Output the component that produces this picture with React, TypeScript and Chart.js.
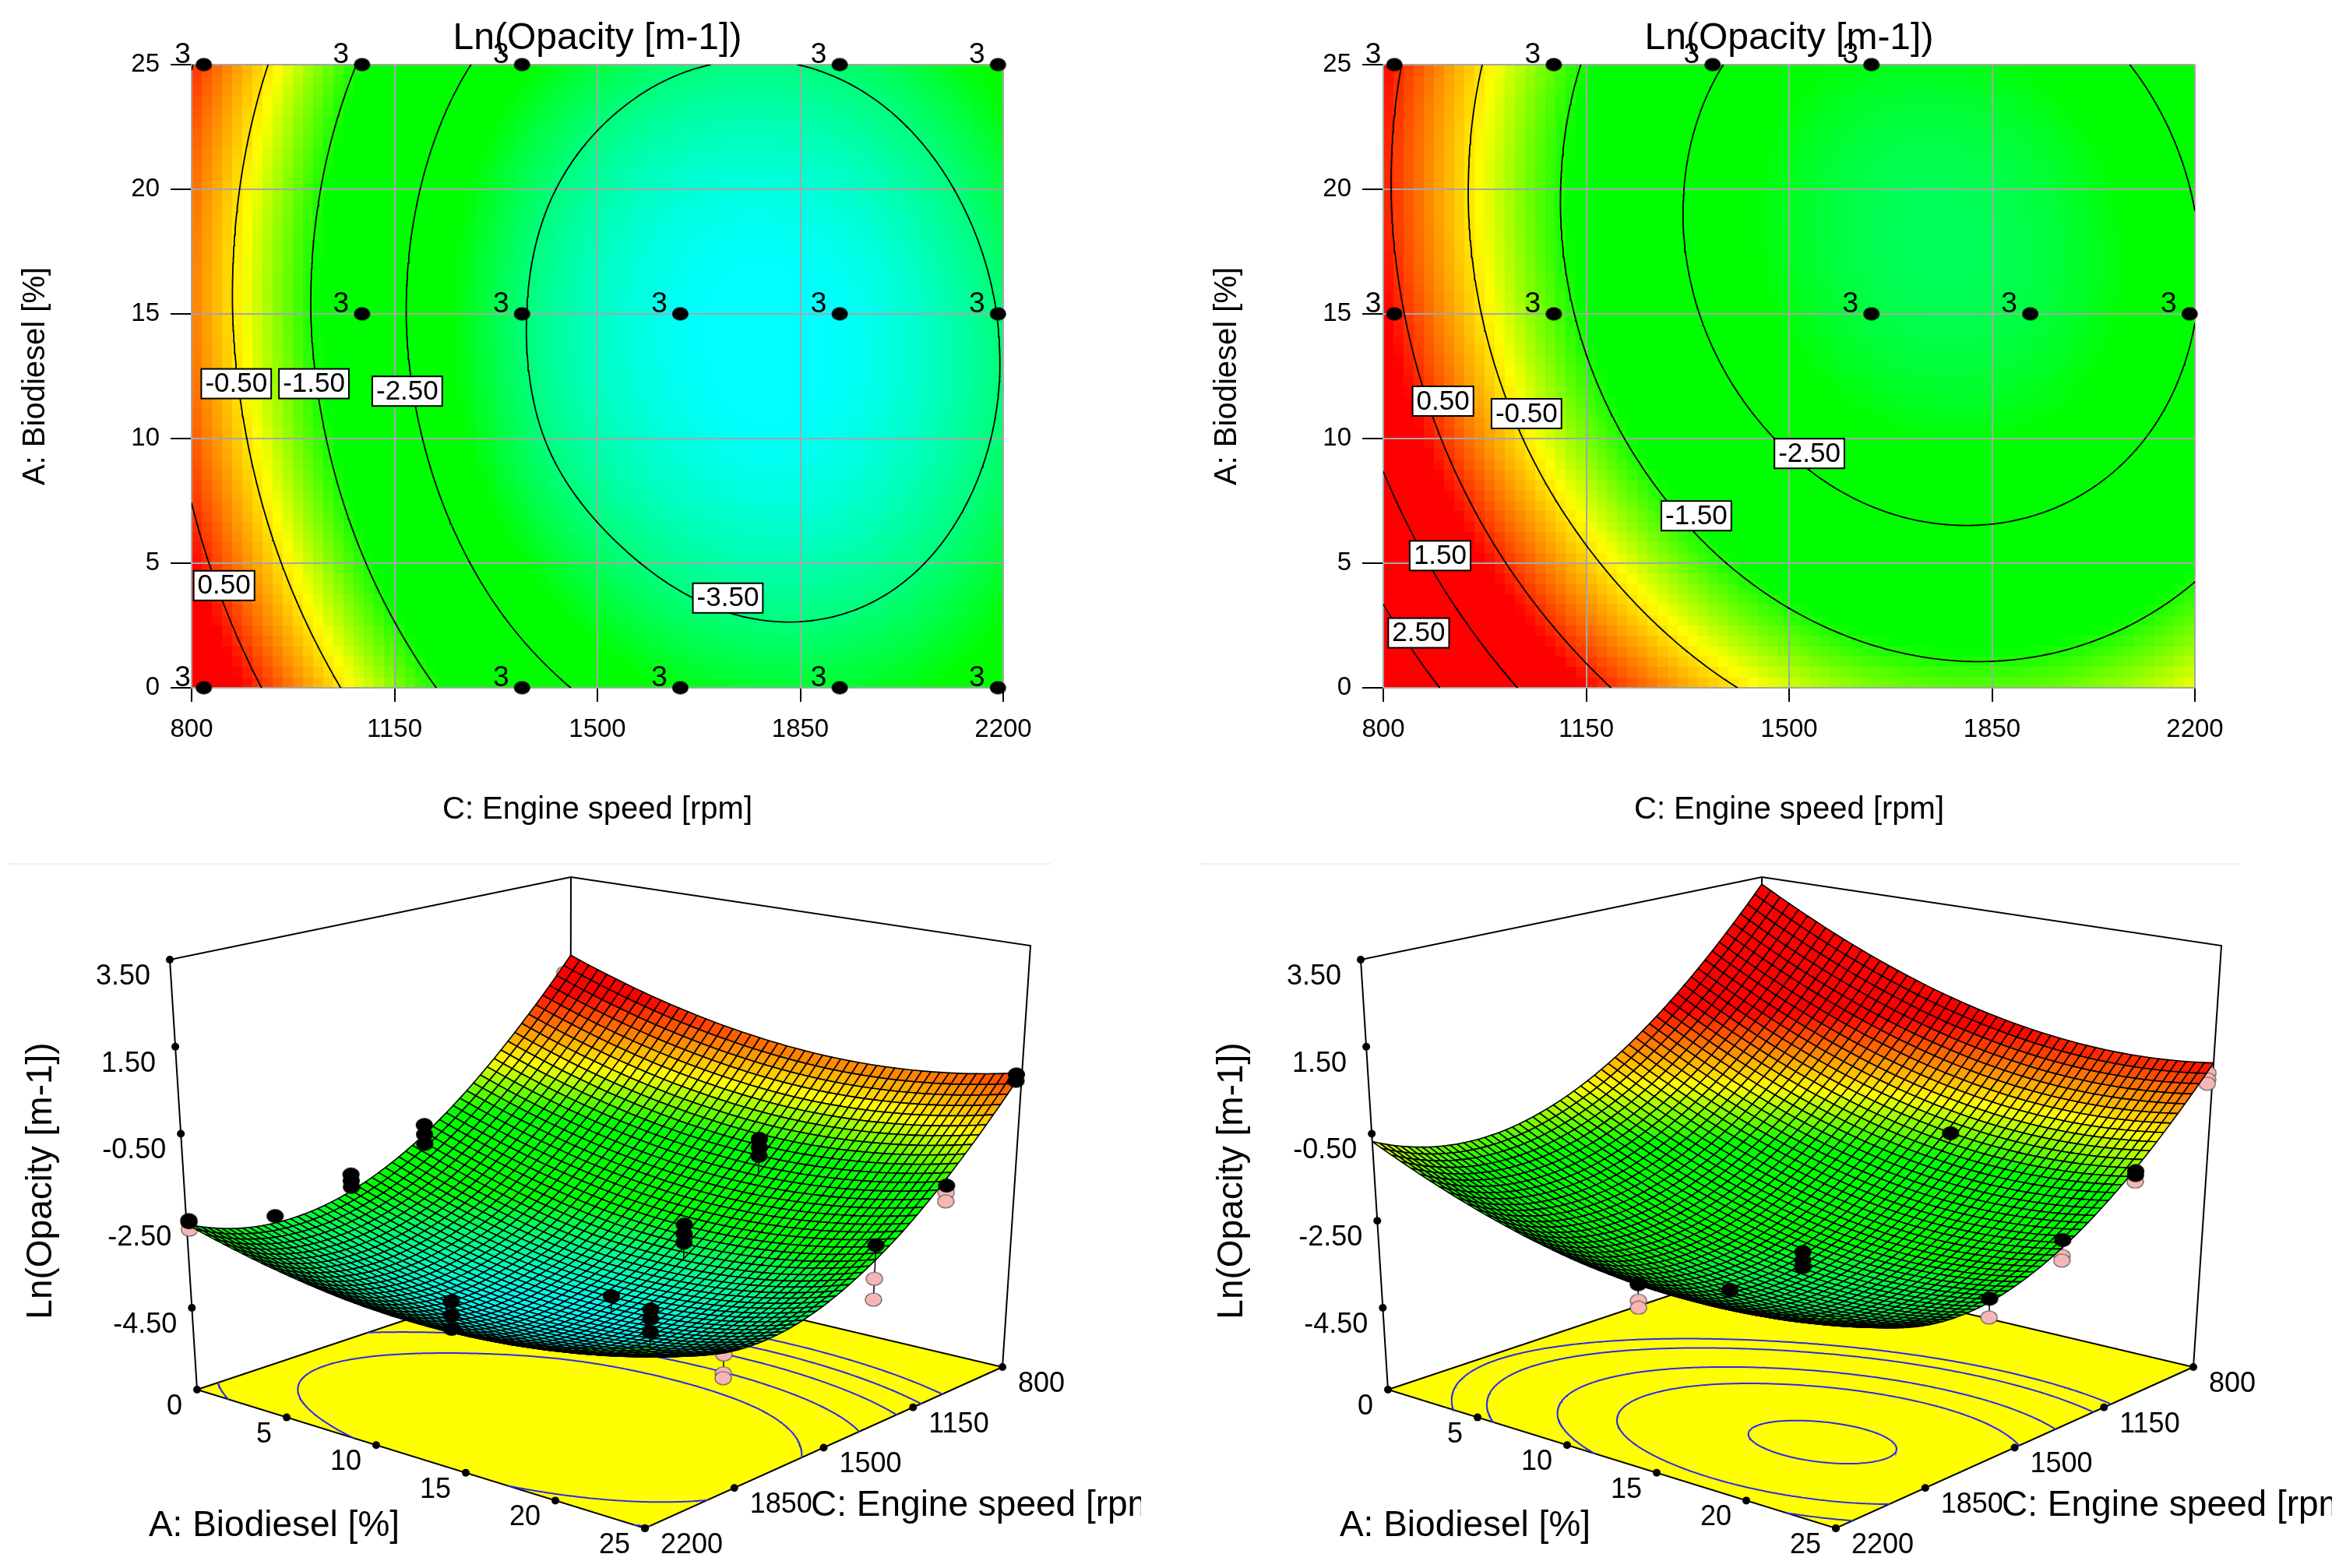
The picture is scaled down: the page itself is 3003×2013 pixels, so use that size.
import React, { useEffect, useRef } from 'react';
import { Chart, registerables } from 'chart.js';

Chart.register(...registerables);
Chart.defaults.font.family = '"Liberation Sans", Arial, sans-serif';

// ---------- data ----------
const speedNodes = [800, 1000, 1200, 1400, 1600, 1800, 2000, 2200];
const biodieselNodes = [0, 5, 10, 15, 20, 25];
// Ln(Opacity) at every speed node, one row per biodiesel node
const opacityLeft = [
  [1.51, -0.10, -1.38, -2.31, -2.89, -3.13, -3.03, -2.58],
  [0.76, -0.83, -2.08, -3.02, -3.55, -3.76, -3.62, -3.13],
  [0.29, -1.28, -2.51, -3.47, -3.94, -4.12, -3.94, -3.43],
  [0.09, -1.46, -2.66, -3.58, -4.04, -4.19, -4.00, -3.46],
  [0.17, -1.35, -2.53, -3.41, -3.87, -3.99, -3.78, -3.22],
  [0.52, -0.97, -2.13, -2.93, -3.40, -3.52, -3.30, -2.73],
];
const opacityRight = [
  [3.32, 1.72, 0.46, -0.46, -1.03, -1.26, -1.14, -0.68],
  [2.15, 0.58, -0.64, -1.53, -2.07, -2.26, -2.11, -1.62],
  [1.31, -0.23, -1.42, -2.27, -2.78, -2.94, -2.76, -2.23],
  [0.80, -0.71, -1.87, -2.69, -3.16, -3.29, -3.07, -2.51],
  [0.61, -0.86, -1.99, -2.78, -3.22, -3.31, -3.06, -2.47],
  [0.75, -0.69, -1.79, -2.54, -2.95, -3.01, -2.73, -2.11],
];
const titleText = 'Ln(Opacity [m-1])';
const speedTitle = 'C: Engine speed [rpm]';
const biodieselTitle = 'A: Biodiesel [%]';
const contourLevelsLeft = [0.5, -0.5, -1.5, -2.5, -3.5];
const contourLevelsRight = [2.5, 1.5, 0.5, -0.5, -1.5, -2.5];
const floorLevelsLeft = [-3.38, -2.8, -2.2, -1.7, -1.2];
const floorLevelsRight = [-3.27, -2.75, -2.35, -1.75, -1.4];
const designPointsLeft = [
  { x: 821, y: 25 }, { x: 1094, y: 25 }, { x: 1370, y: 25 }, { x: 1918, y: 25 }, { x: 2191, y: 25 },
  { x: 1094, y: 15 }, { x: 1370, y: 15 }, { x: 1643, y: 15 }, { x: 1918, y: 15 }, { x: 2191, y: 15 },
  { x: 821, y: 0 }, { x: 1370, y: 0 }, { x: 1643, y: 0 }, { x: 1918, y: 0 }, { x: 2191, y: 0 },
];
const designPointsRight = [
  { x: 819, y: 25 }, { x: 1094, y: 25 }, { x: 1368, y: 25 }, { x: 1642, y: 25 },
  { x: 819, y: 15 }, { x: 1094, y: 15 }, { x: 1642, y: 15 }, { x: 1916, y: 15 }, { x: 2191, y: 15 },
];
const contourTagsLeft = [
  { x: 877, y: 12.2, text: '-0.50' }, { x: 1011, y: 12.2, text: '-1.50' }, { x: 1172, y: 11.9, text: '-2.50' },
  { x: 856, y: 4.1, text: '0.50' }, { x: 1725, y: 3.6, text: '-3.50' },
];
const contourTagsRight = [
  { x: 903, y: 11.5, text: '0.50' }, { x: 1047, y: 11.0, text: '-0.50' }, { x: 1535, y: 9.4, text: '-2.50' },
  { x: 1340, y: 6.9, text: '-1.50' }, { x: 898, y: 5.3, text: '1.50' }, { x: 861, y: 2.2, text: '2.50' },
];
const runsAboveLeft = [
  { a: 0, c: 2191, z: -2.5 }, { a: 0, c: 2191, z: -2.55 }, { a: 0, c: 1880, z: -2.97 },
  { a: 0, c: 1600, z: -2.5 }, { a: 0, c: 1600, z: -2.65 }, { a: 0, c: 1600, z: -2.8 },
  { a: 0, c: 1330, z: -1.8 }, { a: 0, c: 1330, z: -2.03 }, { a: 0, c: 1330, z: -2.26 },
  { a: 25, c: 821, z: 0.52 }, { a: 25, c: 821, z: 0.37 }, { a: 25, c: 1065, z: -1.56 }, { a: 25, c: 1328, z: -2.35 },
  { a: 15, c: 1094, z: -1.25 }, { a: 15, c: 1094, z: -1.45 }, { a: 15, c: 1094, z: -1.65 },
  { a: 15, c: 1370, z: -2.69 }, { a: 15, c: 1370, z: -2.9 }, { a: 15, c: 1370, z: -3.1 },
  { a: 15, c: 1643, z: -3.74 },
  { a: 25, c: 2191, z: -1.99 }, { a: 25, c: 2191, z: -2.18 }, { a: 25, c: 2191, z: -2.45 },
  { a: 14.2, c: 2191, z: -2.85 }, { a: 14.2, c: 2191, z: -3.14 }, { a: 14.2, c: 2191, z: -3.43 },
];
const runsBelowLeft = [
  { a: 0, c: 2191, z: -2.72 }, { a: 25, c: 1065, z: -1.72 }, { a: 25, c: 1065, z: -1.92 },
  { a: 25, c: 1328, z: -3.09 }, { a: 25, c: 1328, z: -3.55 },
  { a: 25, c: 1905, z: -3.48 }, { a: 25, c: 1905, z: -3.87 }, { a: 25, c: 1905, z: -3.97 }, { a: 0, c: 821, z: 1.1 },
];
const runsAboveRight = [
  { a: 15, c: 1094, z: -1.12 }, { a: 25, c: 1075, z: -1.21 }, { a: 25, c: 1075, z: -1.3 },
  { a: 25, c: 1345, z: -2.2 }, { a: 25, c: 1620, z: -2.9 },
  { a: 15, c: 1642, z: -2.76 }, { a: 15, c: 1642, z: -2.95 }, { a: 15, c: 1642, z: -3.1 },
  { a: 15, c: 1916, z: -3.05 }, { a: 14, c: 2191, z: -2.5 },
];
const runsBelowRight = [
  { a: 25, c: 1075, z: -1.45 }, { a: 25, c: 1345, z: -2.55 }, { a: 25, c: 1345, z: -2.65 },
  { a: 25, c: 1620, z: -3.3 }, { a: 14, c: 2191, z: -2.85 }, { a: 14, c: 2191, z: -3.0 },
  { a: 25, c: 819, z: 0.55 }, { a: 25, c: 819, z: 0.4 }, { a: 25, c: 819, z: 0.3 },
];
const zTicks = [3.5, 1.5, -0.5, -2.5, -4.5];
const biodieselTicks = [0, 5, 10, 15, 20, 25];
const speedTicks = [800, 1150, 1500, 1850, 2200];

// ---------- colour scale ----------
const rampStops: any[] = [
  [-4.15, 0, 255, 255], [-2.9, 0, 255, 0], [-1.6, 0, 255, 0], [-0.65, 255, 255, 0], [0.75, 255, 0, 0],
];
function ramp(z: number) {
  if (z <= rampStops[0][0]) return 'rgb(0,255,255)';
  for (let i = 1; i < rampStops.length; i++) {
    if (z <= rampStops[i][0]) {
      const p = rampStops[i - 1], q = rampStops[i];
      const t = (z - p[0]) / (q[0] - p[0]);
      return `rgb(${Math.round(p[1] + (q[1] - p[1]) * t)},${Math.round(p[2] + (q[2] - p[2]) * t)},${Math.round(p[3] + (q[3] - p[3]) * t)})`;
    }
  }
  return 'rgb(255,0,0)';
}

// ---------- reading the response table ----------
function spline(p0: number, p1: number, p2: number, p3: number, t: number) {
  return 0.5 * (2 * p1 + (p2 - p0) * t + (2 * p0 - 5 * p1 + 4 * p2 - p3) * t * t + (3 * p1 - p0 - 3 * p2 + p3) * t * t * t);
}
function pick(get: (k: number) => number, k: number, n: number) {
  if (k < 0) return 3 * get(0) - 3 * get(1) + get(2);
  if (k >= n) return 3 * get(n - 1) - 3 * get(n - 2) + get(n - 3);
  return get(k);
}
function opacityAt(grid: number[][], a: number, c: number) {
  const nc = speedNodes.length, nr = biodieselNodes.length;
  const fx = (c - speedNodes[0]) / (speedNodes[1] - speedNodes[0]);
  const fy = (a - biodieselNodes[0]) / (biodieselNodes[1] - biodieselNodes[0]);
  const i = Math.max(0, Math.min(nc - 2, Math.floor(fx)));
  const j = Math.max(0, Math.min(nr - 2, Math.floor(fy)));
  const along = (r: number) => {
    const row = grid[r];
    const g = (k: number) => row[k];
    return spline(pick(g, i - 1, nc), pick(g, i, nc), pick(g, i + 1, nc), pick(g, i + 2, nc), fx - i);
  };
  return spline(pick(along, j - 1, nr), pick(along, j, nr), pick(along, j + 1, nr), pick(along, j + 2, nr), fy - j);
}
function contourOf(grid: number[][], levels: number[], nc = 160, nr = 110) {
  const out: { c: number; a: number }[] = [];
  const C0 = speedNodes[0], C1 = speedNodes[speedNodes.length - 1];
  const A0 = biodieselNodes[0], A1 = biodieselNodes[biodieselNodes.length - 1];
  const cs = (i: number) => C0 + ((C1 - C0) * i) / nc;
  const as = (j: number) => A0 + ((A1 - A0) * j) / nr;
  const vals: number[][] = [];
  for (let j = 0; j <= nr; j++) {
    const r: number[] = [];
    for (let i = 0; i <= nc; i++) r.push(opacityAt(grid, as(j), cs(i)));
    vals.push(r);
  }
  for (const L of levels) {
    for (let j = 0; j < nr; j++) for (let i = 0; i < nc; i++) {
      const corners = [
        [cs(i), as(j), vals[j][i]], [cs(i + 1), as(j), vals[j][i + 1]],
        [cs(i + 1), as(j + 1), vals[j + 1][i + 1]], [cs(i), as(j + 1), vals[j + 1][i]],
      ];
      const hits: { c: number; a: number }[] = [];
      for (let e = 0; e < 4; e++) {
        const p = corners[e], q = corners[(e + 1) % 4];
        if ((p[2] - L) * (q[2] - L) < 0) {
          const t = (L - p[2]) / (q[2] - p[2]);
          hits.push({ c: p[0] + (q[0] - p[0]) * t, a: p[1] + (q[1] - p[1]) * t });
        }
      }
      if (hits.length >= 2) {
        out.push(hits[0], hits[1], { c: NaN, a: NaN });
        if (hits.length === 4) out.push(hits[2], hits[3], { c: NaN, a: NaN });
      }
    }
  }
  return out;
}
function blob(w: number, h: number, fill: string, stroke?: string) {
  const c = document.createElement('canvas');
  c.width = w + 2; c.height = h + 2;
  const x = c.getContext('2d')!;
  x.beginPath();
  x.ellipse(c.width / 2, c.height / 2, w / 2, h / 2, 0, 0, Math.PI * 2);
  x.fillStyle = fill; x.fill();
  if (stroke) { x.strokeStyle = stroke; x.lineWidth = 1.2; x.stroke(); }
  return c;
}

// ---------- contour panel ----------
function ContourPanel({ left, grid, levels, points, tags }: any) {
  const ref = useRef<HTMLCanvasElement>(null);
  useEffect(() => {
    const heat = {
      id: 'heat',
      beforeDraw(chart: any) {
        const { ctx, scales: { x, y } } = chart;
        const cols = 80, rows = 60;
        for (let i = 0; i < cols; i++) for (let j = 0; j < rows; j++) {
          const c = 800 + (1400 * (i + 0.5)) / cols, a = (25 * (j + 0.5)) / rows;
          const x0 = Math.round(x.getPixelForValue(800 + (1400 * i) / cols));
          const x1 = Math.round(x.getPixelForValue(800 + (1400 * (i + 1)) / cols));
          const y0 = Math.round(y.getPixelForValue((25 * (j + 1)) / rows));
          const y1 = Math.round(y.getPixelForValue((25 * j) / rows));
          ctx.fillStyle = ramp(opacityAt(grid, a, c));
          ctx.fillRect(x0, y0, x1 - x0, y1 - y0);
        }
      },
    };
    const tagsPlugin = {
      id: 'tags',
      afterDatasetsDraw(chart: any) {
        const { ctx, scales: { x, y } } = chart;
        ctx.save();
        ctx.textAlign = 'center'; ctx.textBaseline = 'middle'; ctx.fillStyle = '#000';
        ctx.font = '37px "Liberation Sans"';
        for (const p of points) {
          ctx.fillText('3', x.getPixelForValue(p.x) - 27, y.getPixelForValue(p.y) - 12);
        }
        ctx.font = '35px "Liberation Sans"';
        for (const t of tags) {
          const px = x.getPixelForValue(t.x), py = y.getPixelForValue(t.y);
          const w = ctx.measureText(t.text).width + 10, h = 38;
          ctx.fillStyle = '#fff'; ctx.fillRect(px - w / 2, py - h / 2, w, h);
          ctx.strokeStyle = '#000'; ctx.lineWidth = 2; ctx.strokeRect(px - w / 2, py - h / 2, w, h);
          ctx.fillStyle = '#000'; ctx.fillText(t.text, px, py + 1);
        }
        ctx.restore();
      },
    };
    const lines = contourOf(grid, levels).map((p) => ({ x: p.c, y: p.a }));
    const ds: any[] = [
      { data: lines, showLine: true, pointRadius: 0, borderColor: '#000', borderWidth: 1.8, borderCapStyle: 'round' },
      { data: points, showLine: false, pointStyle: blob(21, 17, '#000'), pointRadius: 10, clip: false },
    ];
    ds.forEach((d, i) => { d.order = ds.length - i; });
    const chart = new Chart(ref.current!, {
      type: 'scatter',
      data: { datasets: ds },
      plugins: [heat, tagsPlugin],
      options: {
        animation: false, responsive: false, devicePixelRatio: 1,
        layout: { autoPadding: false, padding: { left: 0, right: 112, top: 0, bottom: 0 } },
        plugins: {
          legend: { display: false }, tooltip: { enabled: false },
          title: { display: true, text: titleText, color: '#000', fullSize: false, font: { size: 48, weight: 'normal', lineHeight: 1.2 }, padding: { top: 21, bottom: 4.4 } },
        },
        scales: {
          x: {
            type: 'linear', min: 800, max: 2200,
            afterFit: (s: any) => { s.height = 217; },
            ticks: { stepSize: 350, color: '#000', padding: 16, maxRotation: 0, autoSkip: false, font: { size: 33 }, callback: (v: any) => String(v) },
            grid: { color: '#a6a6a6', lineWidth: 2, tickColor: '#000', tickWidth: 2, tickLength: 18 },
            border: { color: '#a6a6a6', width: 2 },
            title: { display: true, text: speedTitle, color: '#000', font: { size: 40, lineHeight: 1.2 }, padding: { top: 0, bottom: 36 } },
          },
          y: {
            type: 'linear', min: 0, max: 25,
            afterFit: (s: any) => { s.width = 246; },
            ticks: { stepSize: 5, color: '#000', padding: 14, font: { size: 33 }, callback: (v: any) => String(v) },
            grid: { color: '#a6a6a6', lineWidth: 2, tickColor: '#000', tickWidth: 2, tickLength: 27 },
            border: { color: '#a6a6a6', width: 2 },
            title: { display: true, text: biodieselTitle, color: '#000', font: { size: 40, lineHeight: 1.2 }, padding: { top: 22, bottom: 0 } },
          },
        },
      } as any,
    });
    return () => chart.destroy();
  }, []);
  return <canvas ref={ref} width={1400} height={1100} style={{ position: 'absolute', left, top: 0 }} />;
}

// ---------- surface panel ----------
const Z_FLOOR = -6.38, Z_TOP = 3.5;
const floorBack = [732, 524], floorRight = [1287, 655], floorFront = [828, 862], floorLeft = [253, 684];
const topBack = [733, 26], topRight = [1323, 114], topFront = [838, 232], topLeft = [218, 132];
function bilinear(p: number[], q: number[], r: number[], s: number[], u: number, v: number, k: number) {
  return (1 - u) * (1 - v) * p[k] + u * (1 - v) * q[k] + u * v * r[k] + (1 - u) * v * s[k];
}
function project(a: number, c: number, z: number) {
  const u = a / 25, v = (c - 800) / 1400, w = (z - Z_FLOOR) / (Z_TOP - Z_FLOOR);
  const fx = bilinear(floorBack, floorRight, floorFront, floorLeft, u, v, 0);
  const fy = bilinear(floorBack, floorRight, floorFront, floorLeft, u, v, 1);
  const tx = bilinear(topBack, topRight, topFront, topLeft, u, v, 0);
  const ty = bilinear(topBack, topRight, topFront, topLeft, u, v, 1);
  return { x: fx + (tx - fx) * w, y: fy + (ty - fy) * w };
}
function SurfacePanel({ left, grid, floorLevels, above, below }: any) {
  const ref = useRef<HTMLCanvasElement>(null);
  useEffect(() => {
    const stems = (runs: any[]) => {
      const out: any[] = [];
      for (const r of runs) {
        out.push(project(r.a, r.c, r.z), project(r.a, r.c, opacityAt(grid, r.a, r.c)), { x: NaN, y: NaN });
      }
      return out;
    };
    const gap = { x: NaN, y: NaN };
    const box = [
      project(0, 2200, Z_FLOOR), project(0, 2200, Z_TOP), project(0, 800, Z_TOP), project(25, 800, Z_TOP), project(25, 800, Z_FLOOR), gap,
      project(0, 800, Z_TOP), project(0, 800, Z_FLOOR),
    ];
    const tickDots = [
      ...zTicks.map((z) => project(0, 2200, z)),
      ...biodieselTicks.map((a) => project(a, 2200, Z_FLOOR)),
      ...speedTicks.map((c) => project(25, c, Z_FLOOR)),
    ];
    const surface = {
      id: 'surface',
      afterDatasetDraw(chart: any, args: any) {
        if (!chart.data.datasets[args.index].surfaceAfter) return;
        const { ctx, scales: { x, y } } = chart;
        const NA = 50, NC = 56;
        const pts: any[][] = [];
        const zs: number[][] = [];
        for (let i = 0; i <= NA; i++) {
          pts.push([]); zs.push([]);
          for (let j = 0; j <= NC; j++) {
            const a = (25 * i) / NA, c = 800 + (1400 * j) / NC;
            const z = opacityAt(grid, a, c);
            const p = project(a, c, z);
            pts[i].push({ x: x.getPixelForValue(p.x), y: y.getPixelForValue(p.y) });
            zs[i].push(z);
          }
        }
        ctx.save();
        ctx.lineWidth = 1.6; ctx.strokeStyle = '#000'; ctx.lineJoin = 'round';
        for (let i = 0; i < NA; i++) for (let j = 0; j < NC; j++) {
          ctx.beginPath();
          ctx.moveTo(pts[i][j].x, pts[i][j].y);
          ctx.lineTo(pts[i + 1][j].x, pts[i + 1][j].y);
          ctx.lineTo(pts[i + 1][j + 1].x, pts[i + 1][j + 1].y);
          ctx.lineTo(pts[i][j + 1].x, pts[i][j + 1].y);
          ctx.closePath();
          ctx.fillStyle = ramp((zs[i][j] + zs[i + 1][j] + zs[i][j + 1] + zs[i + 1][j + 1]) / 4);
          ctx.fill(); ctx.stroke();
        }
        ctx.restore();
      },
    };
    const texts = {
      id: 'texts',
      afterDraw(chart: any) {
        const { ctx, scales: { x, y } } = chart;
        const put = (p: any, dx: number, dy: number, s: string) => {
          ctx.fillText(s, x.getPixelForValue(p.x) + dx, y.getPixelForValue(p.y) + dy);
        };
        ctx.save();
        ctx.fillStyle = '#000'; ctx.textBaseline = 'middle';
        ctx.font = '36px "Liberation Sans"';
        ctx.textAlign = 'center';
        zTicks.forEach((z) => put(project(0, 2200, z), -60, 22, z.toFixed(2)));
        ctx.textAlign = 'right';
        biodieselTicks.forEach((a) => put(project(a, 2200, Z_FLOOR), -19, 22, String(a)));
        ctx.textAlign = 'left';
        speedTicks.forEach((c) => put(project(25, c, Z_FLOOR), 20, 22, String(c)));
        ctx.font = '46px "Liberation Sans"';
        ctx.fillText(speedTitle, 1041, 833);
        ctx.textAlign = 'center';
        ctx.fillText(biodieselTitle, 352, 859);
        ctx.translate(53, 416); ctx.rotate(-Math.PI / 2);
        ctx.fillText(titleText, 0, 0);
        ctx.restore();
      },
    };
    const corners = [project(0, 800, Z_FLOOR), project(25, 800, Z_FLOOR), project(25, 2200, Z_FLOOR), project(0, 2200, Z_FLOOR), project(0, 800, Z_FLOOR)];
    const floorLines = contourOf(grid, floorLevels, 200, 140).map((p) => (isNaN(p.c) ? gap : project(p.a, p.c, Z_FLOOR)));
    const ds: any[] = [
      { data: corners, showLine: true, pointRadius: 0, borderColor: '#000', borderWidth: 2, fill: 'shape', backgroundColor: '#ffff00', clip: false },
      { data: floorLines, showLine: true, pointRadius: 0, borderColor: '#2a2ae6', borderWidth: 2, borderCapStyle: 'round', clip: false },
      { data: box, showLine: true, pointRadius: 0, borderColor: '#000', borderWidth: 2, clip: false },
      { data: tickDots, showLine: false, pointRadius: 5, backgroundColor: '#000', borderWidth: 0, clip: false },
      { data: stems(below), showLine: true, pointRadius: 0, borderColor: '#000', borderWidth: 1.5, clip: false },
      { data: below.map((r: any) => project(r.a, r.c, r.z)), showLine: false, pointStyle: blob(21, 17, '#f7b6b6', '#555'), pointRadius: 10, clip: false, surfaceAfter: true },
      { data: stems(above), showLine: true, pointRadius: 0, borderColor: '#000', borderWidth: 1.5, clip: false },
      { data: above.map((r: any) => project(r.a, r.c, r.z)), showLine: false, pointStyle: blob(22, 18, '#000'), pointRadius: 10, clip: false },
    ];
    ds.forEach((d, i) => { d.order = ds.length - i; });
    const chart = new Chart(ref.current!, {
      type: 'scatter',
      data: { datasets: ds },
      plugins: [surface, texts],
      options: {
        animation: false, responsive: false, devicePixelRatio: 1,
        layout: { autoPadding: false, padding: 0 },
        plugins: { legend: { display: false }, tooltip: { enabled: false }, title: { display: false } },
        scales: {
          x: { type: 'linear', min: 0, max: 1465, display: false },
          y: { type: 'linear', min: 0, max: 913, reverse: true, display: false },
        },
      } as any,
    });
    return () => chart.destroy();
  }, []);
  return <canvas ref={ref} width={1465} height={913} style={{ position: 'absolute', left, top: 1100 }} />;
}

export default function App() {
  return (
    <div style={{ position: 'absolute', left: 0, top: 0, width: 3003, height: 2013, background: '#fff', overflow: 'hidden' }}>
      <ContourPanel left={0} grid={opacityLeft} levels={contourLevelsLeft} points={designPointsLeft} tags={contourTagsLeft} />
      <ContourPanel left={1530} grid={opacityRight} levels={contourLevelsRight} points={designPointsRight} tags={contourTagsRight} />
      <div style={{ position: 'absolute', left: 10, top: 1108, width: 1339, height: 2, background: '#f0f0f0' }} />
      <div style={{ position: 'absolute', left: 1540, top: 1108, width: 1336, height: 2, background: '#f0f0f0' }} />
      <SurfacePanel left={0} grid={opacityLeft} floorLevels={floorLevelsLeft} above={runsAboveLeft} below={runsBelowLeft} />
      <SurfacePanel left={1529} grid={opacityRight} floorLevels={floorLevelsRight} above={runsAboveRight} below={runsBelowRight} />
    </div>
  );
}
